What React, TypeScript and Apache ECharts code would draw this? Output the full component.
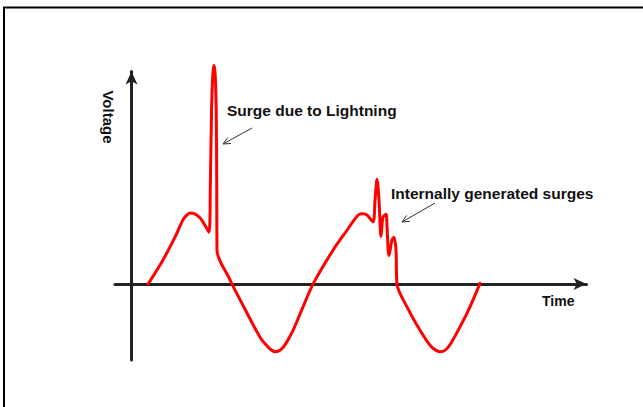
import React, { useEffect, useRef } from "react";
import * as echarts from "echarts";

// Time in ms (50 Hz supply, 20 ms period), voltage in per-unit
const timeMs = [
  2.0, 3.82, 5.27, 6.24, 6.7, 7.09, 7.6, 8.3, 8.91, 9.39,
  9.55, 9.7, 9.85, 10.0, 10.15, 10.27, 10.33, 10.36,
  11.94, 12.18, 14.0, 15.58, 16.3, 16.79, 17.39, 18.0, 18.6, 19.58, 20.79, 22.0,
  24.42, 26.12, 27.0, 27.58, 28.1, 28.55, 29.27, 29.52, 29.76, 30.0, 30.24, 30.48,
  30.85, 30.97, 31.21, 31.58, 31.82, 32.06, 32.18,
  33.39, 34.97, 35.9, 36.55, 37.39, 38.0, 38.7, 39.82, 41.03, 42.24,
];
const voltagePu = [
  0, 0.35, 0.68, 0.93, 1.0, 1.03, 1.02, 0.96, 0.85, 0.75,
  1.4, 2.5, 3.02, 3.17, 3.02, 2.5, 1.5, 0.49,
  0.06, 0, -0.42, -0.77, -0.88, -0.94, -0.98, -0.96, -0.88, -0.67, -0.33, 0,
  0.49, 0.78, 0.93, 1.01, 1.02, 1.0, 0.9, 1.22, 1.52, 1.22, 0.69, 0.97,
  1.01, 0.83, 0.41, 0.64, 0.68, 0.49, 0,
  -0.33, -0.67, -0.84, -0.93, -0.98, -0.96, -0.86, -0.62, -0.33, 0.01,
];

const xAxisName = "Time";
const yAxisName = "Voltage";
const lightningLabel = "Surge due to Lightning";
const internalLabel = "Internally generated surges";

function arrow(x1: number, y1: number, x2: number, y2: number) {
  const dx = x1 - x2;
  const dy = y1 - y2;
  const len = Math.hypot(dx, dy);
  const ux = dx / len;
  const uy = dy / len;
  const L = 8;
  const a = (25 * Math.PI) / 180;
  const c = Math.cos(a);
  const s = Math.sin(a);
  const w1 = [x2 + L * (ux * c - uy * s), y2 + L * (ux * s + uy * c)];
  const w2 = [x2 + L * (ux * c + uy * s), y2 + L * (-ux * s + uy * c)];
  const style = { stroke: "#333", lineWidth: 1 };
  return [
    { type: "line", shape: { x1, y1, x2, y2 }, style },
    { type: "polyline", shape: { points: [w1, [x2, y2], w2] }, style: { ...style, fill: null } },
  ];
}

export default function App() {
  const ref = useRef<HTMLDivElement>(null);
  useEffect(() => {
    if (!ref.current) return;
    const chart = echarts.init(ref.current, null, { renderer: "svg" });
    const data = timeMs.map((t, i) => [t, voltagePu[i]]);
    const font = "'Liberation Sans', Arial, sans-serif";
    const axisLine = {
      show: true,
      onZero: true,
      symbol: ["none", "arrow"],
      symbolSize: [9, 13],
      lineStyle: { color: "#222", width: 3 },
    };
    chart.setOption({
      animation: false,
      backgroundColor: "#fff",
      grid: { left: 115, right: 56.5, top: 71.5, bottom: 47 },
      xAxis: {
        type: "value",
        min: -2,
        max: 55.15,
        axisLine,
        axisTick: { show: false },
        axisLabel: { show: false },
        splitLine: { show: false },
      },
      yAxis: {
        type: "value",
        min: -1.1,
        max: 3.08,
        axisLine,
        axisTick: { show: false },
        axisLabel: { show: false },
        splitLine: { show: false },
      },
      series: [
        {
          type: "line",
          data,
          smooth: 0.3,
          clip: false,
          showSymbol: false,
          symbol: "none",
          lineStyle: { color: "#ff0000", width: 3, join: "round", cap: "round" },
          z: 1,
        },
      ],
      graphic: [
        {
          type: "rect",
          shape: { x: 4, y: 7.5, width: 800, height: 600 },
          style: { fill: null, stroke: "#000", lineWidth: 2 },
          silent: true,
        },
        {
          type: "text",
          x: 227,
          y: 110,
          style: { text: lightningLabel, fill: "#111", font: `bold 15.5px ${font}`, textVerticalAlign: "middle" },
        },
        {
          type: "text",
          x: 391,
          y: 193,
          style: { text: internalLabel, fill: "#111", font: `bold 15.5px ${font}`, textVerticalAlign: "middle" },
        },
        {
          type: "text",
          x: 542,
          y: 301,
          style: { text: xAxisName, fill: "#111", font: `bold 14px ${font}`, textVerticalAlign: "middle" },
        },
        {
          type: "text",
          x: 108,
          y: 117,
          rotation: -Math.PI / 2,
          style: {
            text: yAxisName,
            fill: "#111",
            font: `bold 15px ${font}`,
            textAlign: "center",
            textVerticalAlign: "middle",
          },
        },
        ...arrow(252, 128, 223, 144),
        ...arrow(435, 203, 402, 222),
      ],
    });
    return () => chart.dispose();
  }, []);
  return (
    <div
      ref={ref}
      style={{ position: "fixed", left: 0, top: 0, width: 643, height: 407, background: "#fff" }}
    />
  );
}
